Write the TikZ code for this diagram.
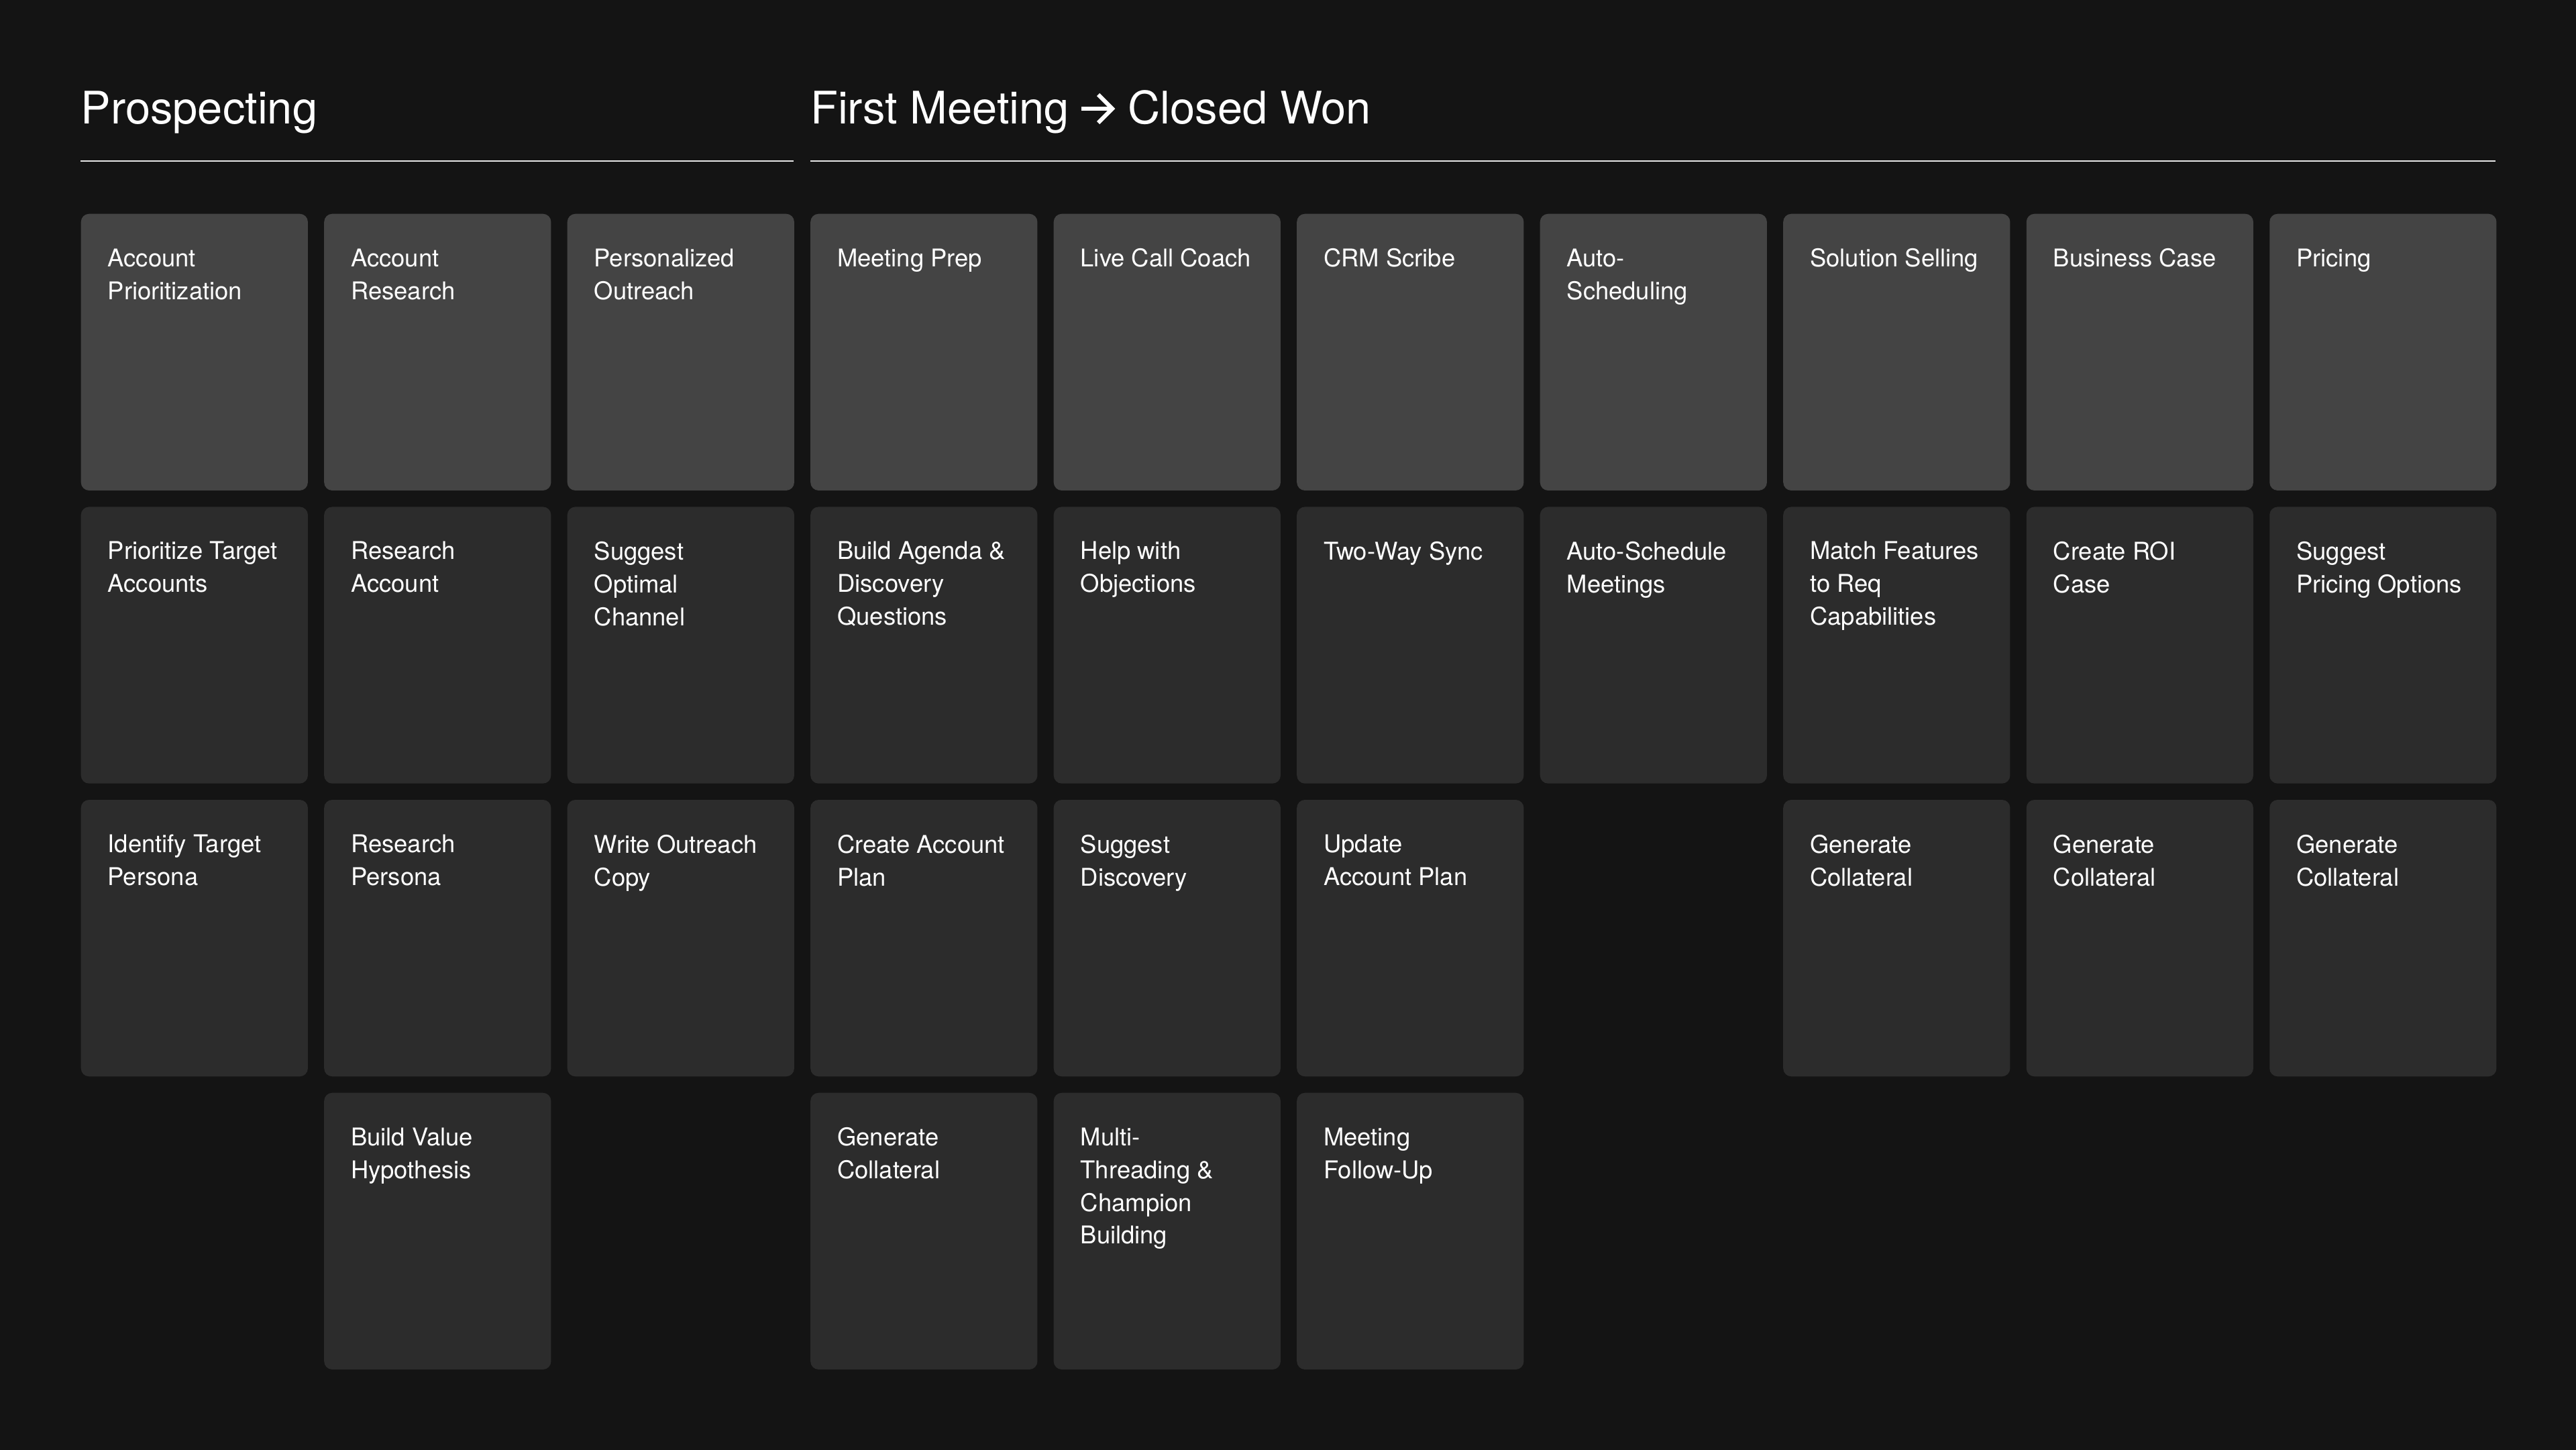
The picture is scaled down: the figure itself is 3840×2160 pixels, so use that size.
\documentclass[tikz,border=0pt]{standalone}
\usepackage{fontspec}
\setmainfont{TeX Gyre Heros}
\usepackage{tikz}
\definecolor{bg}{HTML}{141414}
\definecolor{cardtop}{HTML}{444444}
\definecolor{cardlow}{HTML}{2C2C2C}
\definecolor{rule}{HTML}{E6E6E6}

\begin{document}
\begin{tikzpicture}[x=0.01cm,y=-0.01cm,
    every node/.style={inner sep=0pt,anchor=north west},
    card/.style={rectangle,rounded corners=0.12cm,fill=cardlow,minimum width=3.38cm,minimum height=4.12cm},
    topcard/.style={card,fill=cardtop},
    cardtext/.style={align=left,text=white,font=\fontsize{10.35}{13.9}\selectfont},
    head/.style={anchor=base west,text=white,font=\fontsize{19}{22}\selectfont}]
            \useasboundingbox (0,0) rectangle (3840,2160);
            \fill[bg] (-10,-10) rectangle (3850,2170);

            % section headings
            \node[head] (HP) at (120,184) {Prospecting};
            \node[head] (HF) at (1207.5,184) {First Meeting};
            \node[head] (HW) at (1681,184) {Closed Won};
            \draw[white,line width=0.06cm] (1612,162) -- (1656,162);
            \draw[white,line width=0.06cm,miter limit=4] (1637,141) -- (1658,162) -- (1637,183);
            \coordinate (P1) at (120,240);
            \coordinate (P2) at (1183,240);
            \coordinate (C1) at (1207.5,240);
            \coordinate (C2) at (3720,240);
            \draw[rule,line width=0.6pt] (P1) -- (P2);
            \draw[rule,line width=0.6pt] (C1) -- (C2);

            % row 1
            \node[topcard] (AP) at (120,318) {};
            \node[topcard] (AR) at (482.5,318) {};
            \node[topcard] (PO) at (845,318) {};
            \node[topcard] (MP) at (1207.5,318) {};
            \node[topcard] (LC) at (1570,318) {};
            \node[topcard] (CS) at (1932.5,318) {};
            \node[topcard] (AS) at (2295,318) {};
            \node[topcard] (SS) at (2657.5,318) {};
            \node[topcard] (BC) at (3020,318) {};
            \node[topcard] (PR) at (3382.5,318) {};

            % row 2
            \node[card] (PT) at (120,754.7) {};
            \node[card] (RA) at (482.5,754.7) {};
            \node[card] (SO) at (845,754.7) {};
            \node[card] (BA) at (1207.5,754.7) {};
            \node[card] (HO) at (1570,754.7) {};
            \node[card] (TW) at (1932.5,754.7) {};
            \node[card] (SM) at (2295,754.7) {};
            \node[card] (MF) at (2657.5,754.7) {};
            \node[card] (RO) at (3020,754.7) {};
            \node[card] (SP) at (3382.5,754.7) {};

            % row 3
            \node[card] (IT) at (120,1191.3) {};
            \node[card] (RP) at (482.5,1191.3) {};
            \node[card] (WO) at (845,1191.3) {};
            \node[card] (CA) at (1207.5,1191.3) {};
            \node[card] (SD) at (1570,1191.3) {};
            \node[card] (UA) at (1932.5,1191.3) {};
            \node[card] (GS) at (2657.5,1191.3) {};
            \node[card] (GB) at (3020,1191.3) {};
            \node[card] (GP) at (3382.5,1191.3) {};

            % row 4
            \node[card] (BV) at (482.5,1628) {};
            \node[card] (GM) at (1207.5,1628) {};
            \node[card] (MT) at (1570,1628) {};
            \node[card] (MU) at (1932.5,1628) {};

            % labels
            \node[cardtext] (APt) at ([xshift=0.4cm,yshift=-0.52cm]AP.north west) {Account\\Prioritization};
            \node[cardtext] (ARt) at ([xshift=0.4cm,yshift=-0.52cm]AR.north west) {Account\\Research};
            \node[cardtext] (POt) at ([xshift=0.4cm,yshift=-0.52cm]PO.north west) {Personalized\\Outreach};
            \node[cardtext] (MPt) at ([xshift=0.4cm,yshift=-0.52cm]MP.north west) {Meeting Prep};
            \node[cardtext] (LCt) at ([xshift=0.4cm,yshift=-0.52cm]LC.north west) {Live Call Coach};
            \node[cardtext] (CSt) at ([xshift=0.4cm,yshift=-0.52cm]CS.north west) {CRM Scribe};
            \node[cardtext] (ASt) at ([xshift=0.4cm,yshift=-0.52cm]AS.north west) {Auto-\\Scheduling};
            \node[cardtext] (SSt) at ([xshift=0.4cm,yshift=-0.52cm]SS.north west) {Solution Selling};
            \node[cardtext] (BCt) at ([xshift=0.4cm,yshift=-0.52cm]BC.north west) {Business Case};
            \node[cardtext] (PRt) at ([xshift=0.4cm,yshift=-0.52cm]PR.north west) {Pricing};

            \node[cardtext] (PTt) at ([xshift=0.4cm,yshift=-0.52cm]PT.north west) {Prioritize Target\\Accounts};
            \node[cardtext] (RAt) at ([xshift=0.4cm,yshift=-0.52cm]RA.north west) {Research\\Account};
            \node[cardtext] (SOt) at ([xshift=0.4cm,yshift=-0.52cm]SO.north west) {Suggest\\Optimal\\Channel};
            \node[cardtext] (BAt) at ([xshift=0.4cm,yshift=-0.52cm]BA.north west) {Build Agenda \&\\Discovery\\Questions};
            \node[cardtext] (HOt) at ([xshift=0.4cm,yshift=-0.52cm]HO.north west) {Help with\\Objections};
            \node[cardtext] (TWt) at ([xshift=0.4cm,yshift=-0.52cm]TW.north west) {Two-Way Sync};
            \node[cardtext] (SMt) at ([xshift=0.4cm,yshift=-0.52cm]SM.north west) {Auto-Schedule\\Meetings};
            \node[cardtext] (MFt) at ([xshift=0.4cm,yshift=-0.52cm]MF.north west) {Match Features\\to Req\\Capabilities};
            \node[cardtext] (ROt) at ([xshift=0.4cm,yshift=-0.52cm]RO.north west) {Create ROI\\Case};
            \node[cardtext] (SPt) at ([xshift=0.4cm,yshift=-0.52cm]SP.north west) {Suggest\\Pricing Options};

            \node[cardtext] (ITt) at ([xshift=0.4cm,yshift=-0.52cm]IT.north west) {Identify Target\\Persona};
            \node[cardtext] (RPt) at ([xshift=0.4cm,yshift=-0.52cm]RP.north west) {Research\\Persona};
            \node[cardtext] (WOt) at ([xshift=0.4cm,yshift=-0.52cm]WO.north west) {Write Outreach\\Copy};
            \node[cardtext] (CAt) at ([xshift=0.4cm,yshift=-0.52cm]CA.north west) {Create Account\\Plan};
            \node[cardtext] (SDt) at ([xshift=0.4cm,yshift=-0.52cm]SD.north west) {Suggest\\Discovery};
            \node[cardtext] (UAt) at ([xshift=0.4cm,yshift=-0.52cm]UA.north west) {Update\\Account Plan};
            \node[cardtext] (GSt) at ([xshift=0.4cm,yshift=-0.52cm]GS.north west) {Generate\\Collateral};
            \node[cardtext] (GBt) at ([xshift=0.4cm,yshift=-0.52cm]GB.north west) {Generate\\Collateral};
            \node[cardtext] (GPt) at ([xshift=0.4cm,yshift=-0.52cm]GP.north west) {Generate\\Collateral};

            \node[cardtext] (BVt) at ([xshift=0.4cm,yshift=-0.52cm]BV.north west) {Build Value\\Hypothesis};
            \node[cardtext] (GMt) at ([xshift=0.4cm,yshift=-0.52cm]GM.north west) {Generate\\Collateral};
            \node[cardtext] (MTt) at ([xshift=0.4cm,yshift=-0.52cm]MT.north west) {Multi-\\Threading \&\\Champion\\Building};
            \node[cardtext] (MUt) at ([xshift=0.4cm,yshift=-0.52cm]MU.north west) {Meeting\\Follow-Up};
        \end{tikzpicture}
\end{document}
